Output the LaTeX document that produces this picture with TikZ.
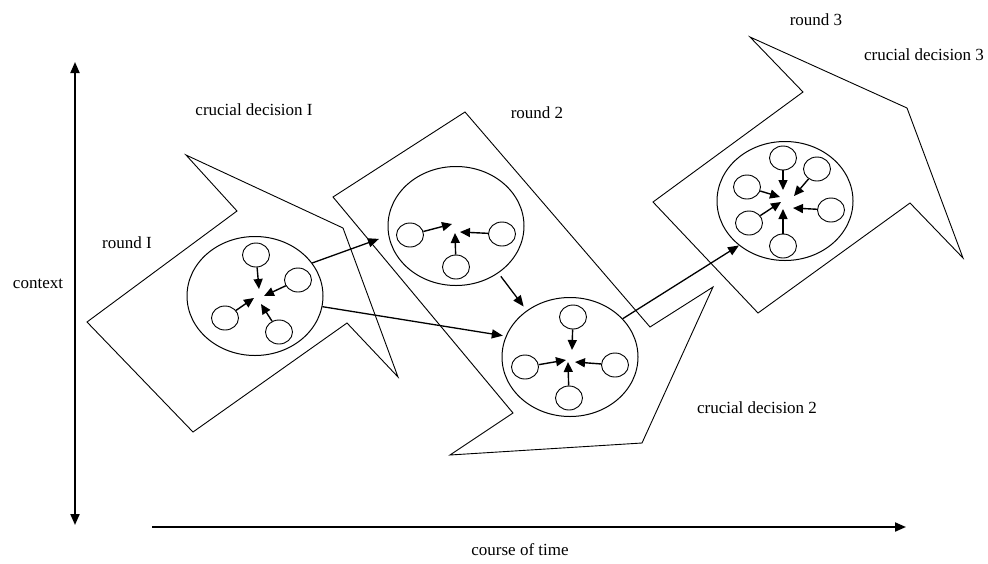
\documentclass[tikz,border=0pt]{standalone}
\usepackage{fontspec}
\setmainfont{Liberation Serif}
\usetikzlibrary{arrows.meta,shapes.geometric}

\tikzset{
  outline/.style={draw=black, line width=0.9pt, line join=miter},
  bigcirc/.style={ellipse, draw=black, line width=1pt, inner sep=0pt,
                  minimum width=136pt, minimum height=119pt},
  smallcirc/.style={ellipse, draw=black, line width=0.9pt, inner sep=0pt,
                    minimum width=27pt, minimum height=24pt},
  inarrow/.style={line width=1.4pt, -{Triangle[length=10pt,width=9pt]}},
  linkarrow/.style={line width=1.3pt, -{Triangle[length=11pt,width=9pt]}},
  axis/.style={line width=2pt},
  lbl/.style={font=\fontsize{17}{20}\selectfont, inner sep=0pt}
}

\begin{document}
\begin{tikzpicture}[x=1pt,y=-1pt]
\useasboundingbox (0,0) rectangle (988,563);

% ---------- the three rounds, drawn as rough arrow outlines ----------
\draw[outline] (87,322) -- (237,211) -- (186,155) -- (343,228) -- (398,377)
               -- (347,323) -- (193,432) -- cycle;
\draw[outline] (465,112) -- (333,197) -- (513,413) -- (450,455) -- (642,443)
               -- (713,287) -- (650,327) -- cycle;
\draw[outline] (653,202) -- (803,92) -- (750,37) -- (907,108) -- (963,258)
               -- (910,203) -- (758,313) -- cycle;

% ---------- decision circles ----------
\node[bigcirc] (c1)  at (255,296) {};
\node[bigcirc] (c2)  at (456,226) {};
\node[bigcirc] (c2b) at (570,357) {};
\node[bigcirc] (c3)  at (785,201) {};

% round 1: four actors
\node[smallcirc] (a1) at (256,255) {};
\node[smallcirc] (a2) at (298,280) {};
\node[smallcirc] (a3) at (225,318) {};
\node[smallcirc] (a4) at (279,332) {};
\coordinate (ta1) at (259,289);
\coordinate (ta2) at (264,296);
\coordinate (ta3) at (254,298);
\coordinate (ta4) at (261,304);
\foreach \i in {1,2,3,4} \draw[inarrow] (a\i) -- (ta\i);

% round 2: three actors
\node[smallcirc] (b1) at (410,235) {};
\node[smallcirc] (b2) at (502,234) {};
\node[smallcirc] (b3) at (456,267) {};
\coordinate (tb1) at (452,224);
\coordinate (tb2) at (460,232);
\coordinate (tb3) at (455,233);
\foreach \i in {1,2,3} \draw[inarrow] (b\i) -- (tb\i);

% crucial decision 2: four actors
\node[smallcirc] (d1) at (573,317) {};
\node[smallcirc] (d2) at (525,367) {};
\node[smallcirc] (d3) at (615,365) {};
\node[smallcirc] (d4) at (569,398) {};
\coordinate (td1) at (572,350);
\coordinate (td2) at (566,360);
\coordinate (td3) at (575,362);
\coordinate (td4) at (568,362);
\foreach \i in {1,2,3,4} \draw[inarrow] (d\i) -- (td\i);

% round 3: six actors
\node[smallcirc] (e1) at (783,158) {};
\node[smallcirc] (e2) at (817,169) {};
\node[smallcirc] (e3) at (747,187) {};
\node[smallcirc] (e4) at (831,210) {};
\node[smallcirc] (e5) at (749,223) {};
\node[smallcirc] (e6) at (783,246) {};
\coordinate (te1) at (783,190);
\coordinate (te2) at (794,196);
\coordinate (te3) at (780,197);
\coordinate (te4) at (793,208);
\coordinate (te5) at (781,202);
\coordinate (te6) at (783,209);
\foreach \i in {1,...,6} \draw[inarrow] (e\i) -- (te\i);

% ---------- links between decisions ----------
\draw[linkarrow, shorten >=10pt] (c1.30)   -- (c2.188);
\draw[linkarrow, shorten >=3pt]  (c1.-9)   -- (c2b.162);
\draw[linkarrow, shorten <=4pt, shorten >=5pt] (c2.-48) -- (c2b.133);
\draw[linkarrow] (c2b.36) -- (c3.224);

% ---------- axes ----------
\coordinate (vtop) at (75,62);
\coordinate (vbot) at (75,525);
\coordinate (hleft) at (152,527);
\coordinate (hright) at (906,527);
\draw[axis, {Triangle[length=11pt,width=9pt]}-{Triangle[length=11pt,width=9pt]}] (vbot) -- (vtop);
\draw[axis, -{Triangle[length=11pt,width=9pt]}] (hleft) -- (hright);

% ---------- labels ----------
\node[lbl] (lr1)  at (127,243) {round I};
\node[lbl] (lcd1) at (254,110) {crucial decision I};
\node[lbl] (lr2)  at (537,113) {round 2};
\node[lbl] (lr3)  at (816,20)  {round 3};
\node[lbl] (lcd3) at (924,55)  {crucial decision 3};
\node[lbl] (lcd2) at (757,408) {crucial decision 2};
\node[lbl] (lctx) at (38,284)  {context};
\node[lbl] (ltime) at (520,550) {course of time};
\end{tikzpicture}
\end{document}
